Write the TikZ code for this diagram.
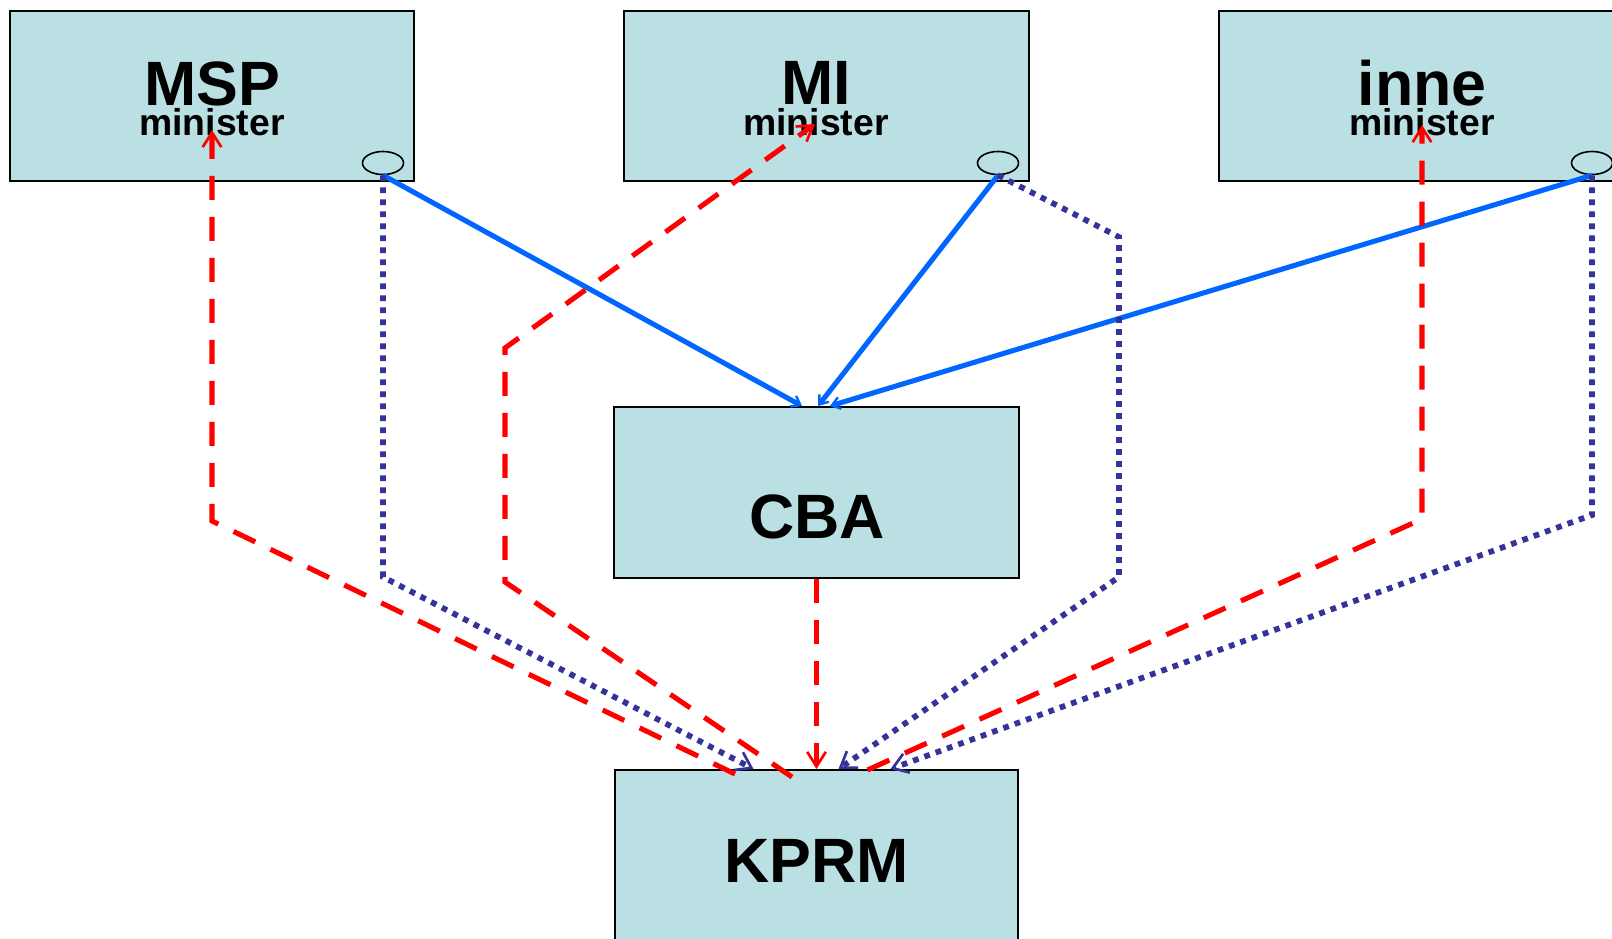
\documentclass[tikz,border=0pt]{standalone}
\usepackage{fontspec}
\setmainfont{Liberation Sans}
\usepackage{xcolor}
\usetikzlibrary{arrows.meta,shapes.geometric,calc}

\definecolor{boxfill}{RGB}{187,224,227}
\definecolor{linkblue}{RGB}{0,102,255}
\definecolor{linknavy}{RGB}{51,51,153}
\definecolor{linkred}{RGB}{255,0,0}

\tikzset{
  box/.style={draw=black, line width=1.5pt, fill=boxfill, inner sep=0pt},
  hub/.style={ellipse, draw=black, line width=1.2pt, inner sep=0pt,
    minimum width=30.75pt, minimum height=17.25pt},
  bigname/.style={anchor=base, inner sep=0pt, font=\bfseries\fontsize{47}{50}\selectfont},
  smallname/.style={anchor=base, inner sep=0pt, font=\bfseries\fontsize{28}{30}\selectfont},
  bluelink/.style={draw=linkblue, line width=3.8pt,
    -{Straight Barb[length=6pt, width=9pt, line width=1.8pt]}},
  redlink/.style={draw=linkred, line width=3.8pt, dash pattern=on 18pt off 12.75pt,
    -{Straight Barb[length=11pt, width=14pt, line width=2pt]}},
  navylink/.style={draw=linknavy, line width=4.3pt, dash pattern=on 4.3pt off 4.7pt,
    -{Straight Barb[length=11pt, width=15pt, line width=2pt]}}
}

\begin{document}
\begin{tikzpicture}[x=0.75pt,y=0.75pt,yscale=-1,xscale=1]
\clip (0,0) rectangle (1612,938);

%Shape: Rectangle
\node[box, minimum width=303pt, minimum height=127.5pt] (msp) at (212,96) {};
\node[box, minimum width=303.75pt, minimum height=127.5pt] (mi) at (826.5,96) {};
\node[box, minimum width=304.5pt, minimum height=127.5pt] (inne) at (1422,96) {};
\node[box, minimum width=303.75pt, minimum height=128.25pt] (cba) at (816.5,492.5) {};
\node[box, minimum width=302.25pt, minimum height=127.5pt] (kprm) at (816.5,855) {};

%Shape: Ellipse
\node[hub] (msphub) at (383,163) {};
\node[hub] (mihub) at (998,163) {};
\node[hub] (innehub) at (1592,163) {};

% Text Node
\node[bigname] (mspname) at (212,106) {MSP};
\node[smallname] (mspmin) at (212,136) {minister};
\node[bigname] (miname) at (816,105) {MI};
\node[smallname] (mimin) at (816,136) {minister};
\node[bigname] (innename) at (1422,106) {inne};
\node[smallname] (innemin) at (1422,136) {minister};
\node[bigname] (cbaname) at (817,538) {CBA};
\node[bigname] (kprmname) at (816.5,882) {KPRM};

%Bends
\coordinate (mspbend) at (212,521);
\coordinate (midown) at (505,582);
\coordinate (miup) at (505,348);
\coordinate (innebend) at (1422,519);
\coordinate (mspdot) at (383,577);
\coordinate (midotup) at (1119,237);
\coordinate (midotdown) at (1119,577);
\coordinate (innedot) at (1592,515);

%Straight Lines
\draw[bluelink] (msphub.south) -- ($(cba.north)+(-14.5,0)$);
\draw[bluelink] (mihub.south) -- ($(cba.north)+(1.5,0)$);
\draw[bluelink] (innehub.south) -- ($(cba.north)+(13.5,0)$);

\draw[navylink] (msphub.south) -- (mspdot) -- ($(kprm.north)+(-63,0)$);
\draw[navylink] (mihub.south) -- (midotup) -- (midotdown) -- ($(kprm.north)+(22,0)$);
\draw[navylink] (innehub.south) -- (innedot) -- ($(kprm.north)+(74,0)$);

\draw[redlink] ($(kprm.north)+(-81.5,5)$) -- (mspbend) -- ($(mspmin.base)+(0,-6)$);
\draw[redlink] ($(kprm.north)+(-24.5,8)$) -- (midown) -- (miup) -- ($(mimin.base)+(-1,-12)$);
\draw[redlink] ($(kprm.north)+(51,1)$) -- (innebend) -- ($(innemin.base)+(0,-11)$);
\draw[redlink] (cba.south) -- (kprm.north);
\end{tikzpicture}
\end{document}
